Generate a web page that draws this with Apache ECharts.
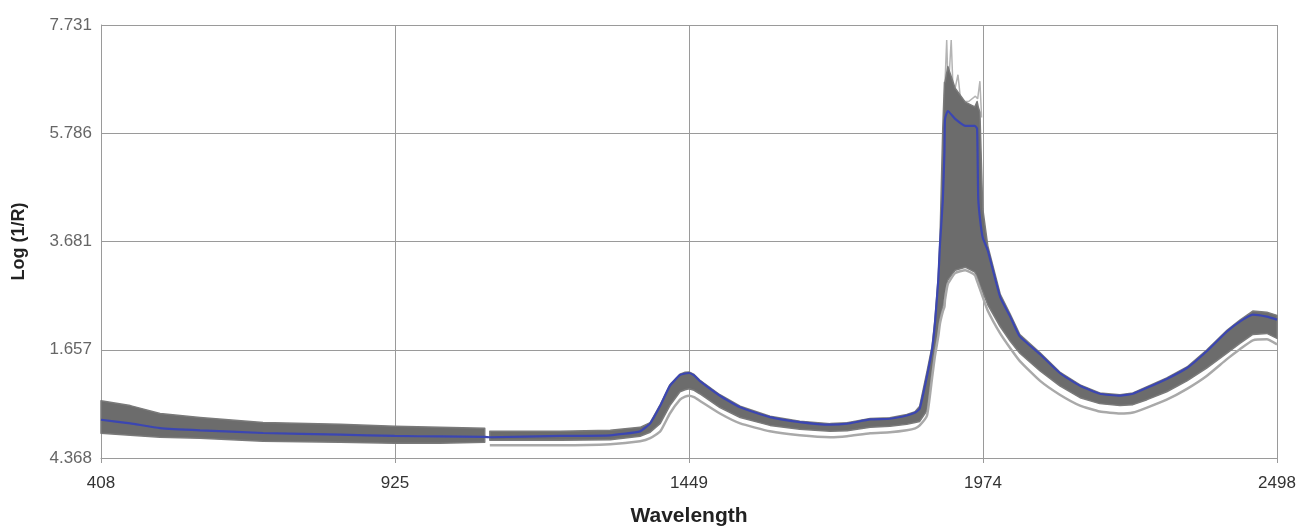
<!DOCTYPE html>
<html><head><meta charset="utf-8">
<script src="https://cdn.jsdelivr.net/npm/echarts@6/dist/echarts.min.js"></script>
<style>html,body{margin:0;padding:0;background:#fff}#c{width:1303px;height:532px}</style>
</head><body><div id="c"></div>
<script>
// ---- data ----
const xTickLabels = ['408', '925', '1449', '1974', '2498'];
const yTickLabels = ['4.368', '1.657', '3.681', '5.786', '7.731'];
const xMin = 408, xMax = 2498, xStep = 522.5;
const yMin = -0.368, yMax = 7.731, yStep = 2.02475;

const wavelength = [408, 460, 513, 584, 696, 833, 930, 1010, 1090,
  1099, 1224, 1313, 1366, 1384, 1402, 1419, 1437, 1446, 1453, 1462, 1472, 1508, 1544, 1597, 1650, 1704, 1734,
  1775, 1810, 1840, 1855, 1863, 1876, 1885, 1890, 1896, 1899, 1904, 1907, 1908, 1913, 1926, 1944,
  1961, 1965, 1967, 1970, 1975, 1984, 2006, 2024, 2041, 2077, 2112, 2148, 2183, 2219, 2242, 2267,
  2302, 2338, 2373, 2409, 2432, 2455, 2480, 2498];

const meanSpectrum = [0.347, 0.279, 0.192, 0.150, 0.100, 0.070, 0.044, 0.035, 0.026,
  0.020, 0.044, 0.057, 0.131, 0.279, 0.612, 0.982, 1.185, 1.213, 1.222, 1.176, 1.074, 0.797, 0.580, 0.396, 0.303, 0.255, 0.274,
  0.353, 0.366, 0.427, 0.482, 0.556, 1.167, 1.666, 2.147, 2.960, 3.626, 4.440, 5.364, 5.974, 6.122, 5.974, 5.845,
  5.845, 5.789, 4.495, 4.125, 3.755, 3.515, 2.646, 2.276, 1.906, 1.573, 1.222, 0.982, 0.834, 0.797, 0.834, 0.945,
  1.111, 1.315, 1.629, 1.999, 2.184, 2.313, 2.276, 2.221];

const bandUpper = [0.704, 0.612, 0.464, 0.390, 0.298, 0.261, 0.224, 0.205, 0.187,
  0.131, 0.131, 0.150, 0.205, 0.295, 0.630, 1.000, 1.200, 1.235, 1.240, 1.195, 1.090, 0.815, 0.600, 0.415, 0.320, 0.275, 0.290,
  0.370, 0.385, 0.445, 0.500, 0.600, 1.250, 1.720, 2.200, 3.020, 3.700, 5.800, 6.659, 6.659, 6.954, 6.550, 6.289,
  6.200, 6.300, 6.200, 6.100, 4.300, 3.600, 2.700, 2.320, 1.940, 1.600, 1.240, 1.000, 0.850, 0.815, 0.850, 0.965,
  1.130, 1.335, 1.650, 2.020, 2.210, 2.380, 2.360, 2.300];

const bandLower = [0.094, 0.057, 0.020, 0.002, -0.054, -0.072, -0.091, -0.091, -0.072,
  -0.035, -0.035, -0.026, 0.039, 0.113, 0.279, 0.612, 0.871, 0.908, 0.926, 0.899, 0.834, 0.575, 0.390, 0.242, 0.168, 0.131, 0.141,
  0.205, 0.224, 0.261, 0.298, 0.316, 0.519, 1.259, 1.666, 1.999, 2.239, 2.461, 2.554, 2.683, 2.960, 3.145, 3.201,
  3.108, 3.016, 2.960, 2.868, 2.739, 2.498, 2.091, 1.814, 1.592, 1.259, 0.982, 0.760, 0.649, 0.612, 0.630, 0.723,
  0.871, 1.074, 1.315, 1.592, 1.777, 1.943, 1.962, 1.869];

const lowSpectrum = [null, null, null, null, null, null, null, null, null,
  -0.128, -0.128, -0.109, -0.054, 0.002, 0.131, 0.464, 0.723, 0.779, 0.797, 0.770, 0.704, 0.464, 0.279, 0.131, 0.057, 0.020, 0.039,
  0.094, 0.113, 0.150, 0.187, 0.242, 0.427, 1.130, 1.536, 1.906, 2.147, 2.369, 2.461, 2.591, 2.886, 3.090, 3.145,
  3.053, 2.942, 2.886, 2.794, 2.646, 2.387, 1.962, 1.684, 1.444, 1.074, 0.816, 0.612, 0.501, 0.464, 0.482, 0.575,
  0.723, 0.926, 1.167, 1.481, 1.666, 1.832, 1.851, 1.758];

const spikeWl  = [1907, 1911, 1913, 1916, 1919, 1922, 1925, 1931, 1936, 1950, 1962, 1966, 1970, 1973];
const spikeVal = [6.40, 7.45, 6.70, 6.90, 7.45, 6.60, 6.50, 6.80, 6.30, 6.30, 6.40, 6.35, 6.68, 6.00];

const visEnd = 8; // last index of the visible-detector segment

// ---- chart ----
const chart = echarts.init(document.getElementById('c'), null, {renderer: 'canvas'});

function pairs(ys) {
  return wavelength.map((w, i) => [w, ys[i]]);
}
function bandPolygon(a, b, api) {
  const pts = [];
  for (let i = a; i <= b; i++) pts.push(api.coord([wavelength[i], bandUpper[i]]));
  for (let i = b; i >= a; i--) pts.push(api.coord([wavelength[i], bandLower[i]]));
  return {type: 'polygon', shape: {points: pts},
    style: {fill: '#6c6c6c', stroke: '#7a7a7a', lineWidth: 1.5, lineJoin: 'round'}};
}

const font = 'Liberation Sans, Arial, Helvetica, sans-serif';

chart.setOption({
  animation: false,
  backgroundColor: '#ffffff',
  grid: {left: 101, right: 26, top: 25, bottom: 69, containLabel: false},
  xAxis: {
    type: 'value', min: xMin, max: xMax, interval: xStep,
    name: 'Wavelength', nameLocation: 'middle', nameGap: 48,
    nameTextStyle: {fontFamily: font, fontSize: 21, fontWeight: 'bold', color: '#222'},
    axisLine: {show: true, onZero: false, lineStyle: {color: '#9a9a9a', width: 1}},
    axisTick: {show: true, length: 5, lineStyle: {color: '#9a9a9a'}},
    axisLabel: {
      fontFamily: font, fontSize: 17, color: '#333', margin: 17,
      formatter: v => xTickLabels[Math.round((v - xMin) / xStep)] || ''
    },
    splitLine: {show: true, lineStyle: {color: '#9a9a9a', width: 1}}
  },
  yAxis: {
    type: 'value', min: yMin, max: yMax, interval: yStep,
    name: 'Log (1/R)', nameLocation: 'middle', nameGap: 73, nameRotate: 90,
    nameTextStyle: {fontFamily: font, fontSize: 18, fontWeight: 'bold', color: '#222'},
    axisLine: {show: true, onZero: false, lineStyle: {color: '#9a9a9a', width: 1}},
    axisTick: {show: false},
    axisLabel: {
      fontFamily: font, fontSize: 17, color: '#666', margin: 9,
      formatter: v => yTickLabels[Math.round((v - yMin) / yStep)] || ''
    },
    splitLine: {show: true, lineStyle: {color: '#9a9a9a', width: 1}}
  },
  series: [
    {
      type: 'custom', name: 'band', silent: true, z: 2,
      data: [[xMin, yMin]],
      encode: {x: 0, y: 1},
      renderItem: (params, api) => ({
        type: 'group',
        children: [bandPolygon(0, visEnd, api), bandPolygon(visEnd + 1, wavelength.length - 1, api)]
      })
    },
    {
      type: 'line', name: 'spikes', data: spikeWl.map((w, i) => [w, spikeVal[i]]),
      showSymbol: false, z: 1, silent: true,
      lineStyle: {color: '#b4b4b4', width: 1.5}
    },
    {
      type: 'line', name: 'low', data: pairs(lowSpectrum), connectNulls: false,
      showSymbol: false, z: 3, silent: true, smooth: 0.15,
      lineStyle: {color: '#a9a9a9', width: 2.5}
    },
    {
      type: 'line', name: 'mean', data: pairs(meanSpectrum),
      showSymbol: false, z: 4, silent: true, smooth: 0.15,
      lineStyle: {color: '#3b46b2', width: 2.2}
    }
  ]
});
</script>
</body></html>
